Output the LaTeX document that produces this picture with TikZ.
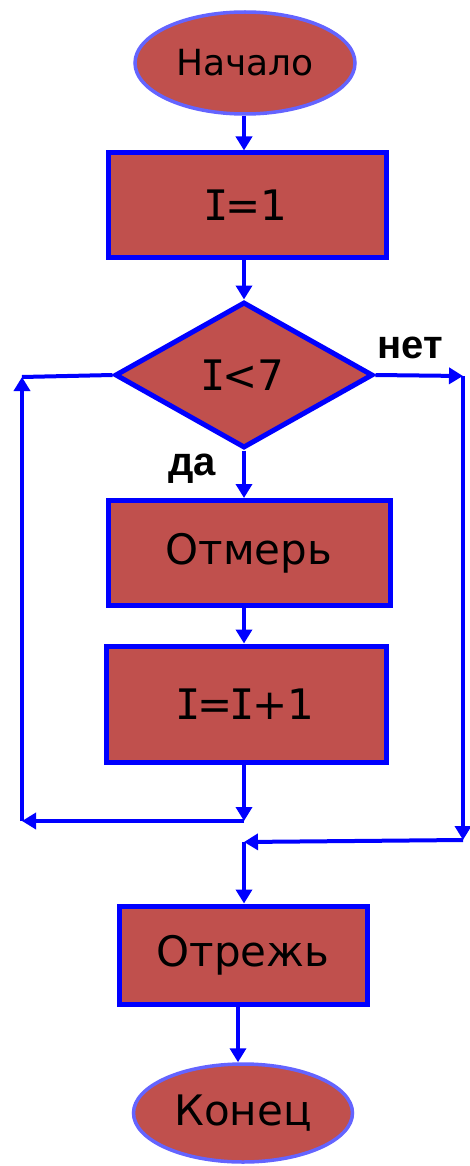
\documentclass[tikz,border=0pt]{standalone}
\usepackage{fontspec}
\setmainfont{DejaVu Sans}
\newfontfamily\labfont{Liberation Sans}
\newfontfamily\serifI{DejaVu Sans Mono}
\newcommand{\Ivar}{{\kern-0.07em\serifI I\kern-0.07em}}
\usetikzlibrary{shapes.geometric,arrows.meta}
\definecolor{boxfill}{RGB}{192,80,77}
\definecolor{boxline}{RGB}{0,0,255}
\definecolor{ellline}{RGB}{100,100,255}
\tikzset{
  procbox/.style={draw=boxline, line width=5pt, fill=boxfill, rectangle, inner sep=0pt,
    font=\fontsize{42}{46}\selectfont},
  termbox/.style={draw=ellline, line width=3.5pt, fill=boxfill, ellipse, inner sep=0pt,
    font=\fontsize{36}{40}\selectfont},
  decbox/.style={draw=boxline, line width=5pt, fill=boxfill, diamond, inner sep=0pt,
    font=\fontsize{42}{46}\selectfont},
  flow/.style={draw=boxline, line width=4pt, -{Triangle[length=14pt,width=16pt]}},
  plain/.style={draw=boxline, line width=4pt},
  lbl/.style={font=\labfont\bfseries\fontsize{40}{44}\selectfont, inner sep=0pt}
}
\begin{document}
\begin{tikzpicture}[x=1pt,y=-1pt]
\useasboundingbox[fill=white] (0,0) rectangle (470,1166);
\node[termbox, minimum width=220pt, minimum height=102pt] (start) at (245,63) {Начало};
\node[procbox, minimum width=278pt, minimum height=104pt] (i1) at (247,205) {\Ivar=1};
\node[decbox, minimum width=258pt, minimum height=146pt] (cond) at (244,375) {\Ivar<7};
\node[procbox, minimum width=282pt, minimum height=105pt] (meas) at (249,553) {Отмерь};
\node[procbox, minimum width=280pt, minimum height=116pt] (inc) at (246,704) {\Ivar=\Ivar+1};
\node[procbox, minimum width=248pt, minimum height=98pt] (cut) at (243,955) {Отрежь};
\node[termbox, minimum width=219pt, minimum height=98pt, font=\fontsize{42}{46}\selectfont] (fin) at (243,1113) {Конец};
\node[lbl] (no) at (410,348) {нет};
\node[lbl] (yes) at (192,469) {да};
% coordinates of the loops
\coordinate (rtop) at (463,376);
\coordinate (rbot) at (463,840);
\coordinate (join) at (244,842);
\coordinate (lbot0) at (244,821);
\coordinate (lbot) at (22,821);
\coordinate (ltop) at (22,377);
% main flow
\draw[flow] (start.south -| cond.north) -- (i1.north -| cond.north);
\draw[flow] (i1.south -| cond.north) -- (cond.north);
\draw[flow] (cond.south) -- (meas.north -| cond.south);
\draw[flow] (meas.south -| cond.south) -- (inc.north -| cond.south);
\draw[flow] (inc.south -| cond.south) -- (lbot0);
\draw[flow] (lbot0) -- (lbot);
\draw[flow] (lbot) -- (ltop);
\draw[plain] (ltop) -- (cond.west);
% exit branch
\draw[flow] (cond.east) -- (rtop);
\draw[flow] (rtop) -- (rbot);
\draw[flow] (rbot) -- (join);
\draw[flow] (join) -- (cut.north -| join);
\draw[flow] (cut.south -| 238,0) -- (fin.north -| 238,0);
\end{tikzpicture}
\end{document}
